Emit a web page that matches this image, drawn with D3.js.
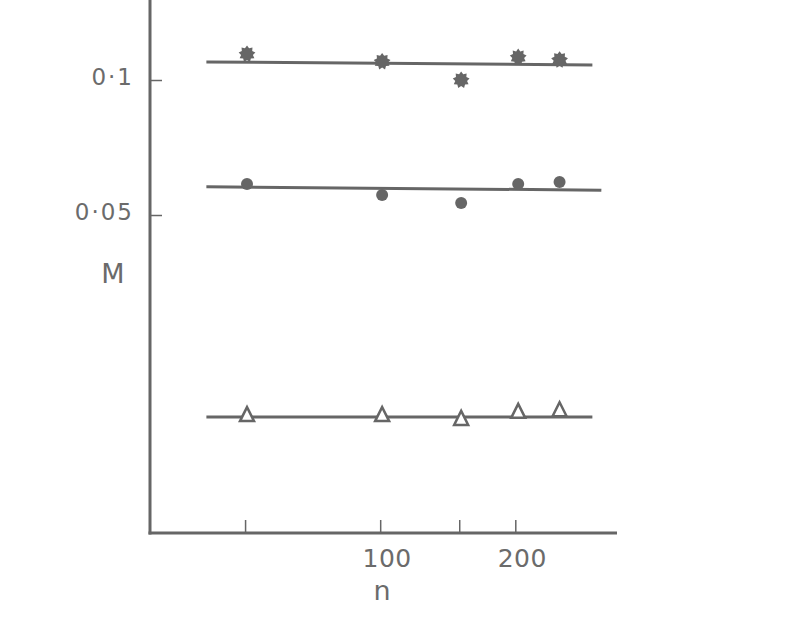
<!DOCTYPE html>
<html>
<head>
<meta charset="utf-8">
<script src="https://cdn.jsdelivr.net/npm/d3@7"></script>
<style>
html,body{margin:0;padding:0;background:#fff;}
svg{display:block;}
text{font-family:"DejaVu Sans","Liberation Sans",Arial,sans-serif;fill:#6b6b6b;}
</style>
</head>
<body>
<svg id="chart" width="796" height="620"></svg>
<script>
// ---- data ----
const nValues = [50.5, 101, 151.5, 203, 251];
const starM   = [0.1143, 0.1100, 0.1000, 0.1125, 0.1110];
const circleM = [0.0586, 0.0554, 0.0532, 0.0586, 0.0592];
const triM    = [0.0179, 0.0179, 0.01755, 0.0182, 0.01835];
const starFitN = [41, 297];   const starFitM = [0.1097, 0.1080];
const circFitN = [41, 311];   const circFitM = [0.0578, 0.0568];
const triFitN  = [41, 297];   const triFitM  = [0.01773, 0.01773];
const xTicks = [50, 100, 150, 200];
const xTickLabels = ["", "100", "", "200"];
const yTicks = [0.1, 0.05];
const yTickLabels = ["0·1", "0·05"];
const xTitle = "n";
const yTitle = "M";

// ---- layout ----
const ink = "#666666";
const svg = d3.select("#chart");
const x0 = 150, x1 = 617, y0 = 533, yTop = 0;
const x = d3.scaleLog().domain([30.7, 337]).range([x0, x1]);
const y = d3.scaleLog().domain([0.00977, 0.1508]).range([y0, yTop]);

// axes lines
svg.append("line").attr("x1", x0).attr("x2", x0).attr("y1", yTop).attr("y2", y0 + 1.5)
  .attr("stroke", ink).attr("stroke-width", 3);
svg.append("line").attr("x1", x0 - 1.5).attr("x2", x1).attr("y1", y0).attr("y2", y0)
  .attr("stroke", ink).attr("stroke-width", 3);

// x ticks (inward)
const xAxis = d3.axisTop(x).tickValues(xTicks).tickSize(13).tickFormat(() => "");
const gx = svg.append("g").attr("transform", `translate(0,${y0})`).call(xAxis);
gx.select(".domain").remove();
gx.selectAll(".tick line").attr("stroke", ink).attr("stroke-width", 1.5);
svg.selectAll(".xlab").data(xTicks).enter().append("text")
  .attr("x", d => x(d) + 7).attr("y", 567)
  .attr("text-anchor", "middle").attr("font-size", 25).attr("letter-spacing", 0.5)
  .text((d, i) => xTickLabels[i]);

// y ticks (inward)
const yAxis = d3.axisRight(y).tickValues(yTicks).tickSize(12).tickFormat(() => "");
const gy = svg.append("g").attr("transform", `translate(${x0},0)`).call(yAxis);
gy.select(".domain").remove();
gy.selectAll(".tick line").attr("stroke", ink).attr("stroke-width", 1.5);
svg.selectAll(".ylab").data(yTicks).enter().append("text")
  .attr("x", 134).attr("y", d => y(d) + 5)
  .attr("text-anchor", "end").attr("font-size", 23).attr("letter-spacing", 2)
  .text((d, i) => yTickLabels[i]);

// titles
svg.append("text").attr("x", 382).attr("y", 600).attr("text-anchor", "middle")
  .attr("font-size", 27).text(xTitle);
svg.append("text").attr("x", 113).attr("y", 283)
  .attr("text-anchor", "middle").attr("font-size", 27)
  .text(yTitle);

// fit lines
const fitLine = d3.line().x(d => x(d[0])).y(d => y(d[1]));
[[starFitN, starFitM], [circFitN, circFitM], [triFitN, triFitM]].forEach(([ns, ms]) => {
  svg.append("path").datum(ns.map((n, i) => [n, ms[i]]))
    .attr("d", fitLine).attr("fill", "none").attr("stroke", ink).attr("stroke-width", 3);
});

// star markers (gear-like 9-point star)
const starPts = d3.range(18).map(i => [i * Math.PI / 9, i % 2 ? 6 : 8.5]);
const starPath = d3.lineRadial().curve(d3.curveLinearClosed)(starPts);
svg.selectAll(".star").data(nValues).enter().append("path")
  .attr("d", starPath)
  .attr("transform", (d, i) => `translate(${x(d)},${y(starM[i])})`)
  .attr("fill", ink);

// circle markers
svg.selectAll(".dot").data(nValues).enter().append("circle")
  .attr("cx", d => x(d)).attr("cy", (d, i) => y(circleM[i])).attr("r", 6)
  .attr("fill", ink);

// triangle markers (open)
const tri = "M0,-8L7,6L-7,6Z";
svg.selectAll(".tri").data(nValues).enter().append("path")
  .attr("d", tri)
  .attr("transform", (d, i) => `translate(${x(d)},${y(triM[i])})`)
  .attr("fill", "#fff").attr("stroke", ink).attr("stroke-width", 2.5);
</script>
</body>
</html>
